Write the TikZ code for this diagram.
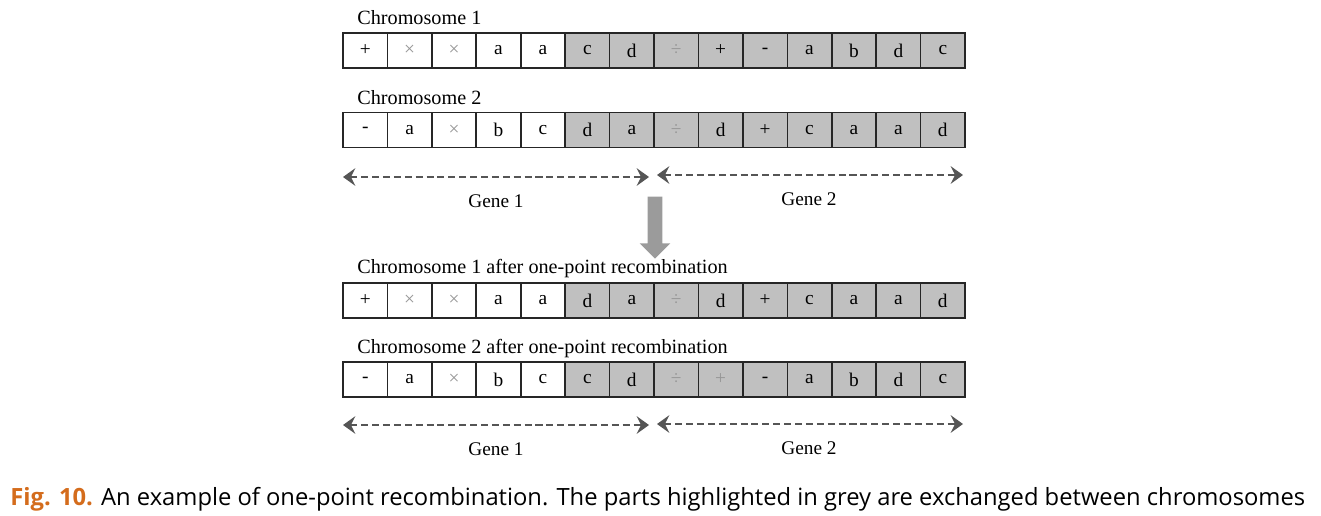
\documentclass[tikz,border=0pt]{standalone}
\usepackage{fontspec}
\setmainfont{Liberation Serif}
\newfontfamily\capfont{Open Sans}
\usetikzlibrary{arrows.meta,shapes.arrows}

\definecolor{cellgrey}{RGB}{192,192,192}
\definecolor{markgrey}{RGB}{150,150,150}
\definecolor{linegrey}{RGB}{85,85,85}
\definecolor{blockgrey}{RGB}{155,155,155}
\definecolor{figorange}{RGB}{212,108,28}
\newcommand{\lt}[1]{\textcolor{markgrey}{#1}}

% one chromosome: name, y of centre, genes
\newcommand{\chromrow}[3]{%
  \foreach \s [count=\i] in {#3} {
    \ifnum\i>5 \def\f{cellgrey}\else\def\f{white}\fi
    \node[cell, fill=\f] (#1-\i) at ({343+44.43*(\i-0.5)},#2) {\s};
  }}

\begin{document}
\begin{tikzpicture}[x=0.02cm, y=-0.02cm,
  cell/.style={draw=black!85, line width=0.9pt, minimum width=0.888cm,
    minimum height=0.7cm, inner sep=0pt, font=\fontsize{11}{13}\selectfont},
  title/.style={anchor=base west, inner sep=0pt, font=\fontsize{11.5}{13}\selectfont},
  genearrow/.style={draw=linegrey, line width=1.2pt, dash pattern=on 4pt off 2.2pt,
    {Stealth[length=7pt,width=10pt,inset=2.5pt]}-{Stealth[length=7pt,width=10pt,inset=2.5pt]}},
  genelabel/.style={font=\fontsize{11}{13}\selectfont, inner sep=0pt}]
\useasboundingbox (0,0) rectangle (1321,515);

\node[title] (t1) at (357,24) {Chromosome 1};
\chromrow{a}{50.5}{+,\lt{×},\lt{×},a,a,c,d,\lt{÷},+,-,a,b,d,c}
\node[title] (t2) at (357,104) {Chromosome 2};
\chromrow{b}{130}{-,a,\lt{×},b,c,d,a,\lt{÷},d,+,c,a,a,d}

\coordinate (g1l) at (343,177);
\coordinate (g1r) at (649,177);
\coordinate (g2l) at (657,175);
\coordinate (g2r) at (963,175);
\draw[genearrow] (g1l) -- (g1r);
\draw[genearrow] (g2l) -- (g2r);
\node[genelabel] (gene1) at (496,201) {Gene 1};
\node[genelabel] (gene2) at (809,199) {Gene 2};

\node[single arrow, shape border rotate=270, fill=blockgrey, draw=none,
  minimum height=1.24cm, minimum width=0.6cm, inner sep=0.14cm,
  single arrow head extend=0.16cm] (down) at (655,224) {};

\node[title] (t3) at (357,273) {Chromosome 1 after one-point recombination};
\chromrow{c}{300.5}{+,\lt{×},\lt{×},a,a,d,a,\lt{÷},d,+,c,a,a,d}
\node[title] (t4) at (357,353) {Chromosome 2 after one-point recombination};
\chromrow{d}{379.5}{-,a,\lt{×},b,c,c,d,\lt{÷},\lt{+},-,a,b,d,c}

\coordinate (h1l) at (343,425);
\coordinate (h1r) at (649,425);
\coordinate (h2l) at (657,424);
\coordinate (h2r) at (963,424);
\draw[genearrow] (h1l) -- (h1r);
\draw[genearrow] (h2l) -- (h2r);
\node[genelabel] (gene3) at (496,449) {Gene 1};
\node[genelabel] (gene4) at (809,448) {Gene 2};

\node[anchor=base west, inner sep=0pt] (caption) at (10,505)
  {\resizebox{25.9cm}{!}{\capfont\textcolor{figorange}{\bfseries Fig. 10.} An example of one-point recombination. The parts highlighted in grey are exchanged between chromosomes}};
\end{tikzpicture}
\end{document}
